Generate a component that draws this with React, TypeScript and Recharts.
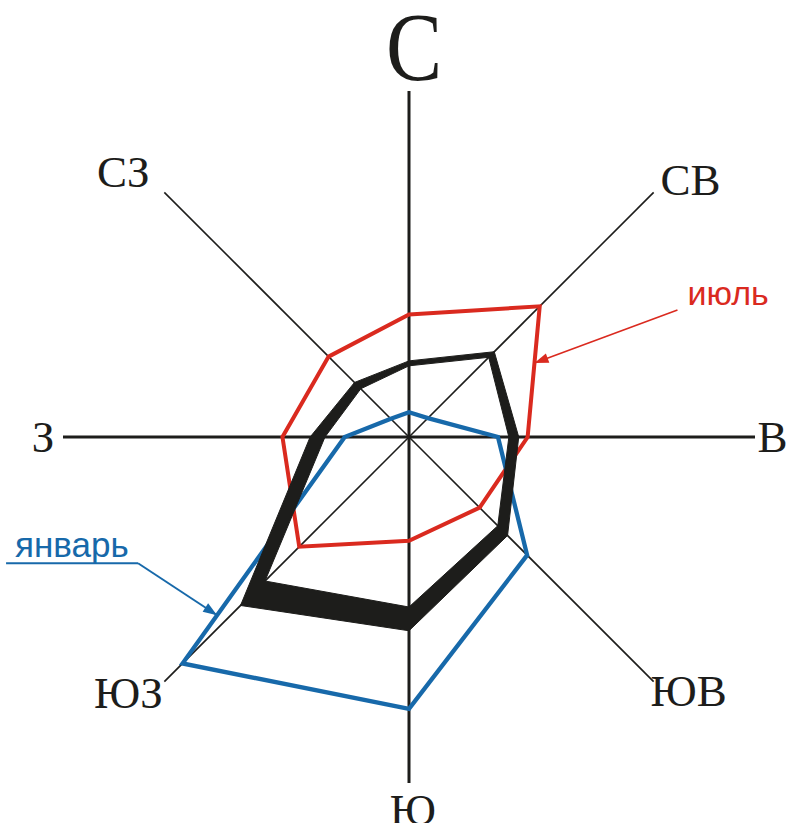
import React from 'react';
import { RadarChart, Radar, PolarAngleAxis, PolarRadiusAxis } from 'recharts';

// ---- data ----
const directions = ['С', 'СВ', 'В', 'ЮВ', 'Ю', 'ЮЗ', 'З', 'СЗ'];
const july = [12.4, 18.7, 12.0, 10.1, 10.5, 15.7, 12.8, 11.5];
const january = [2.5, 2.7, 9.0, 16.9, 27.5, 32.4, 6.5, 2.6];
const yearOuter = [7.7, 12.2, 11.1, 14.1, 19.6, 24.1, 10.0, 7.8];
const yearInner = [7.2, 11.4, 10.1, 12.7, 17.2, 20.6, 8.5, 6.9];
const radiusDomain: [number, number] = [0, 35];
const julyLabel = 'июль';
const januaryLabel = 'январь';

const data = directions.map((dir, i) => ({
  dir,
  july: july[i],
  january: january[i],
  year: [yearInner[i], yearOuter[i]],
}));

// ---- layout / style ----
const W = 789;
const H = 823;
const CX = 409;
const CY = 437;
const R = 346;
const INK = '#1d1d1b';
const RED = '#da2a1f';
const BLUE = '#1769aa';
const SERIF = "'Liberation Serif', 'Times New Roman', serif";
const SANS = "'Liberation Sans', Arial, sans-serif";

// label centre offsets from the tick anchor
const labelShift: Record<string, [number, number]> = {
  'С': [5, -35.5],
  'СВ': [31.3, -6.3],
  'В': [9.5, 0.5],
  'ЮВ': [29.3, 3.3],
  'Ю': [4, 19],
  'ЮЗ': [-30.3, 5.3],
  'З': [-12, 0],
  'СЗ': [-35.3, -14.3],
};

const pathOf = (pts: any[]) =>
  pts.map((p, i) => `${i === 0 ? 'M' : 'L'}${p.x.toFixed(2)},${p.y.toFixed(2)}`).join('') + 'Z';

const arrowHead = (tip: { x: number; y: number }, from: { x: number; y: number }, len: number, half: number) => {
  const dx = tip.x - from.x;
  const dy = tip.y - from.y;
  const l = Math.hypot(dx, dy) || 1;
  const ux = dx / l;
  const uy = dy / l;
  const bx = tip.x - ux * len;
  const by = tip.y - uy * len;
  return `M${tip.x},${tip.y}L${bx - uy * half},${by + ux * half}L${bx + uy * half},${by - ux * half}Z`;
};

function SpokesShape(props: any) {
  const { points } = props;
  return (
    <g>
      {points.map((p: any, i: number) => (
        <line
          key={i}
          x1={p.cx}
          y1={p.cy}
          x2={p.x}
          y2={p.y}
          stroke={INK}
          strokeWidth={i % 2 === 0 ? 3 : 1.6}
        />
      ))}
    </g>
  );
}

function JulyShape(props: any) {
  const { points } = props;
  const a = points[directions.indexOf('СВ')];
  const b = points[directions.indexOf('В')];
  const t = 0.434;
  const tip = { x: a.x + (b.x - a.x) * t, y: a.y + (b.y - a.y) * t };
  const tail = { x: tip.x + 143, y: tip.y - 53 };
  return (
    <g>
      <path d={pathOf(points)} fill="none" stroke={RED} strokeWidth={4} strokeLinejoin="miter" />
      <line x1={tail.x} y1={tail.y} x2={tip.x} y2={tip.y} stroke={RED} strokeWidth={1.6} />
      <path d={arrowHead(tip, tail, 14, 5)} fill={RED} />
      <text x={tail.x + 10} y={tail.y - 5} fontFamily={SANS} fontSize={34} fill={RED}>
        {julyLabel}
      </text>
    </g>
  );
}

function JanuaryShape(props: any) {
  const { points } = props;
  const a = points[directions.indexOf('ЮЗ')];
  const b = points[directions.indexOf('З')];
  const t = 0.213;
  const tip = { x: a.x + (b.x - a.x) * t, y: a.y + (b.y - a.y) * t };
  const tail = { x: tip.x - 79, y: tip.y - 52 };
  return (
    <g>
      <path d={pathOf(points)} fill="none" stroke={BLUE} strokeWidth={4.3} strokeLinejoin="miter" />
      <line x1={tail.x - 132} y1={tail.y} x2={tail.x} y2={tail.y} stroke={BLUE} strokeWidth={2} />
      <line x1={tail.x} y1={tail.y} x2={tip.x} y2={tip.y} stroke={BLUE} strokeWidth={2} />
      <path d={arrowHead(tip, tail, 14, 5)} fill={BLUE} />
      <text x={tail.x - 123} y={tail.y - 6} fontFamily={SANS} fontSize={35} fill={BLUE}>
        {januaryLabel}
      </text>
    </g>
  );
}

function BandShape(props: any) {
  const { points, baseLinePoints } = props;
  let inner: any[];
  if (
    Array.isArray(baseLinePoints) &&
    baseLinePoints.length === points.length &&
    baseLinePoints.every((p: any, i: number) => p.angle === points[i].angle)
  ) {
    inner = baseLinePoints;
  } else {
    inner = points.map((p: any) => {
      const v = p.value;
      const ratio = Array.isArray(v) && v[1] ? v[0] / v[1] : 1;
      return { x: p.cx + (p.x - p.cx) * ratio, y: p.cy + (p.y - p.cy) * ratio };
    });
  }
  return (
    <path
      d={pathOf(points) + pathOf(inner)}
      fill={INK}
      fillRule="evenodd"
      stroke={INK}
      strokeWidth={1}
      strokeLinejoin="miter"
    />
  );
}

function DirectionTick(props: any) {
  const { x, y, payload } = props;
  const name = payload.value as string;
  const [dx, dy] = labelShift[name] || [0, 0];
  const big = name === 'С';
  const fs = big ? 98 : 45;
  const bx = x + dx;
  const by = y + dy + (0.662 * fs) / 2;
  if (big) {
    return (
      <text
        transform={`translate(${bx},${by}) scale(0.86,1)`}
        textAnchor="middle"
        fontFamily={SERIF}
        fontSize={fs}
        fill={INK}
      >
        {name}
      </text>
    );
  }
  return (
    <text x={bx} y={by} textAnchor="middle" fontFamily={SERIF} fontSize={fs} fill={INK}>
      {name}
    </text>
  );
}

export default function App() {
  return (
    <div style={{ position: 'absolute', left: 0, top: 0, width: W, height: H, background: '#fff' }}>
      <RadarChart
        width={W}
        height={H}
        data={data}
        cx={CX}
        cy={CY}
        outerRadius={R}
        margin={{ top: 0, right: 0, bottom: 0, left: 0 }}
      >
        <PolarRadiusAxis domain={radiusDomain} tick={false} axisLine={false} tickLine={false} />
        <PolarAngleAxis dataKey="dir" tick={<DirectionTick />} tickLine={false} axisLine={false} />
        <Radar
          dataKey={() => radiusDomain[1]}
          shape={<SpokesShape />}
          isAnimationActive={false}
          dot={false}
          activeDot={false}
        />
        <Radar dataKey="july" shape={<JulyShape />} isAnimationActive={false} dot={false} activeDot={false} />
        <Radar dataKey="january" shape={<JanuaryShape />} isAnimationActive={false} dot={false} activeDot={false} />
        <Radar dataKey="year" shape={<BandShape />} isAnimationActive={false} dot={false} activeDot={false} />
      </RadarChart>
    </div>
  );
}
